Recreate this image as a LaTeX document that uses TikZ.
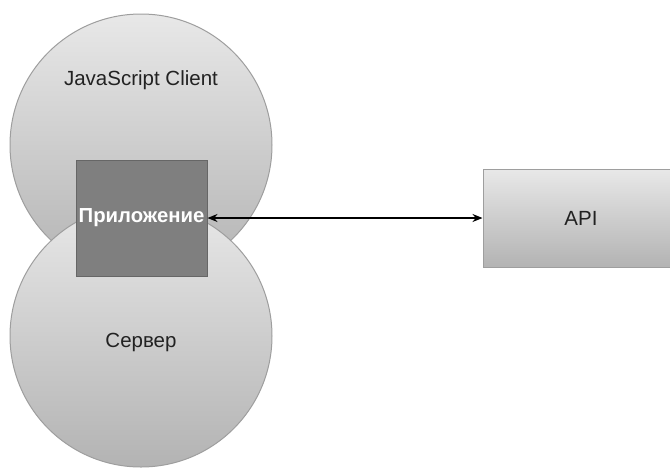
\documentclass[tikz,border=0pt]{standalone}
\usepackage{fontspec}
\setmainfont{Liberation Sans}
\usetikzlibrary{arrows.meta}
\definecolor{gtop}{HTML}{E8E8E8}
\definecolor{gbot}{HTML}{B3B3B3}
\definecolor{gline}{HTML}{9E9E9E}
\definecolor{txt}{HTML}{222222}
\definecolor{appfill}{HTML}{7F7F7F}
\definecolor{appline}{HTML}{666666}
\tikzset{
  circ/.style={circle, draw=gline, line width=1pt, top color=gtop, bottom color=gbot, minimum size=262pt, inner sep=0pt},
  lbl/.style={font=\fontsize{20.5}{22}\selectfont, text=txt},
  appbox/.style={rectangle, draw=appline, line width=1pt, fill=appfill, minimum width=131pt, minimum height=116pt, inner sep=0pt, text=white, font=\fontsize{20.3}{22}\selectfont\bfseries},
  apibox/.style={rectangle, draw=gline, line width=1pt, top color=gtop, bottom color=gbot, minimum width=196pt, minimum height=98pt, inner sep=0pt, font=\fontsize{20.5}{22}\selectfont, text=txt},
  link/.style={{Stealth[length=10pt,width=8pt]}-{Stealth[length=10pt,width=8pt]}, line width=1.2pt, black}
}
\begin{document}
\begin{tikzpicture}[x=1pt,y=-1pt]
\useasboundingbox (0,0) rectangle (670,467);
\node[circ] (client) at (141,145) {};
\node[lbl] (clientlbl) at (141,80) {JavaScript Client};
\node[circ] (server) at (141,336) {};
\node[lbl] (serverlbl) at (141,342) {Сервер};
\node[appbox] (app) at (141.5,218) {Приложение};
\node[apibox] (api) at (581,218) {API};
\draw[link] (app.east) -- (api.west);
\end{tikzpicture}
\end{document}
